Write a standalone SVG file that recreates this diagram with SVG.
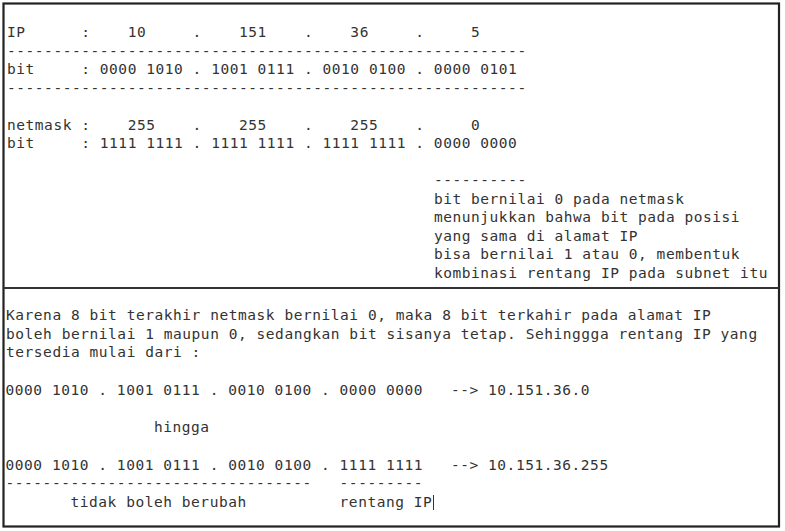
<svg xmlns="http://www.w3.org/2000/svg" width="785" height="531" viewBox="0 0 785 531">
<style>
.t{font-family:"DejaVu Sans Mono","Liberation Mono",monospace;font-size:14.5px;letter-spacing:0.55px;fill:#333;white-space:pre}
.frame{fill:#fff;stroke:#222;stroke-width:2.2}
.div{stroke:#333;stroke-width:2}
</style>
<rect x="0" y="0" width="785" height="531" fill="#fff"/>
<rect class="frame" x="3.5" y="3.5" width="775.5" height="523"/>
<line class="div" x1="3.5" y1="288" x2="779" y2="288"/>
<g id="top-section">
<text class="t" xml:space="preserve" x="7" y="37">IP      :    10     .    151    .    36     .     5</text>
<text class="t" xml:space="preserve" x="7" y="55.5">--------------------------------------------------------</text>
<text class="t" xml:space="preserve" x="7" y="74">bit     : 0000 1010 . 1001 0111 . 0010 0100 . 0000 0101</text>
<text class="t" xml:space="preserve" x="7" y="92.5">--------------------------------------------------------</text>
<text class="t" xml:space="preserve" x="7" y="129.5">netmask :    255    .    255    .    255    .     0</text>
<text class="t" xml:space="preserve" x="7" y="148">bit     : 1111 1111 . 1111 1111 . 1111 1111 . 0000 0000</text>
</g>
<g id="note">
<text class="t" xml:space="preserve" x="433.9" y="185">----------</text>
<text class="t" xml:space="preserve" x="433.9" y="203.5">bit bernilai 0 pada netmask</text>
<text class="t" xml:space="preserve" x="433.9" y="222">menunjukkan bahwa bit pada posisi</text>
<text class="t" xml:space="preserve" x="433.9" y="240.5">yang sama di alamat IP</text>
<text class="t" xml:space="preserve" x="433.9" y="259">bisa bernilai 1 atau 0, membentuk</text>
<text class="t" xml:space="preserve" x="433.9" y="277.5">kombinasi rentang IP pada subnet itu</text>
</g>
<g id="bottom-section">
<text class="t" xml:space="preserve" x="6" y="320">Karena 8 bit terakhir netmask bernilai 0, maka 8 bit terkahir pada alamat IP</text>
<text class="t" xml:space="preserve" x="6" y="338.7">boleh bernilai 1 maupun 0, sedangkan bit sisanya tetap. Sehinggga rentang IP yang</text>
<text class="t" xml:space="preserve" x="6" y="357.4">tersedia mulai dari :</text>
<text class="t" xml:space="preserve" x="5.5" y="394.8">0000 1010 . 1001 0111 . 0010 0100 . 0000 0000   --&gt; 10.151.36.0</text>
<text class="t" xml:space="preserve" x="5.5" y="432.2">                hingga</text>
<text class="t" xml:space="preserve" x="5.5" y="469.6">0000 1010 . 1001 0111 . 0010 0100 . 1111 1111   --&gt; 10.151.36.255</text>
<text class="t" xml:space="preserve" x="5.5" y="488.3">---------------------------------   ---------</text>
<text class="t" xml:space="preserve" x="5.5" y="507">       tidak boleh berubah          rentang IP</text>
<line x1="433.5" y1="495" x2="433.5" y2="510" stroke="#333" stroke-width="1"/>
</g>
</svg>
